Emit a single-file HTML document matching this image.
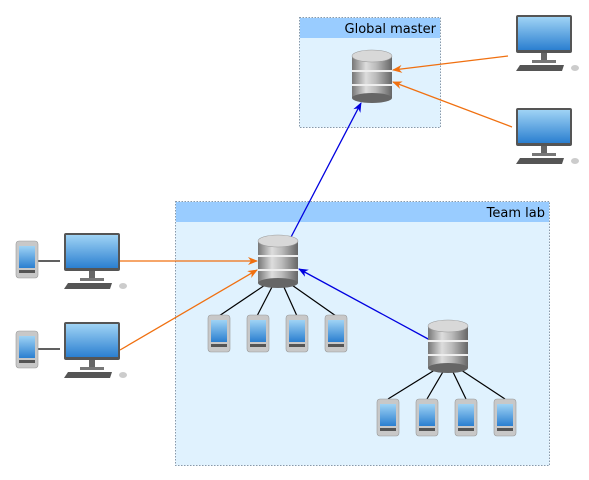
<!DOCTYPE html>
<html><head><style>body{margin:0;background:#fff}svg{display:block}</style></head><body>
<svg width="589" height="480" xmlns="http://www.w3.org/2000/svg" font-family="DejaVu Sans, sans-serif">
<defs>
<linearGradient id="cyl" x1="0" x2="1"><stop offset="0" stop-color="#777"/><stop offset=".35" stop-color="#ddd"/><stop offset=".6" stop-color="#bbb"/><stop offset="1" stop-color="#666"/></linearGradient>
<linearGradient id="scr" x1="0" y1="0" x2="0" y2="1"><stop offset="0" stop-color="#9fd3f5"/><stop offset="1" stop-color="#2b7fd0"/></linearGradient>
<marker id="ao" markerWidth="10" markerHeight="8" refX="9" refY="4" orient="auto" markerUnits="userSpaceOnUse"><path d="M0,0L10,4L0,8L3,4z" fill="#f07010"/></marker>
<marker id="ab" markerWidth="10" markerHeight="8" refX="9" refY="4" orient="auto" markerUnits="userSpaceOnUse"><path d="M0,0L10,4L0,8L3,4z" fill="#0000e0"/></marker>
<g id="db">
<rect x="0" y="6" width="40" height="42" fill="url(#cyl)"/>
<ellipse cx="20" cy="48" rx="20" ry="5" fill="#666"/>
<rect x="0" y="20" width="40" height="2" fill="#eee"/>
<rect x="0" y="34" width="40" height="2" fill="#eee"/>
<ellipse cx="20" cy="6" rx="20" ry="6" fill="#d8d8d8" stroke="#999" stroke-width=".6"/>
</g>
<g id="mon">
<rect x="0" y="0" width="56" height="38" rx="2" fill="#555"/>
<rect x="2" y="2" width="52" height="33" fill="url(#scr)"/>
<rect x="25" y="38" width="6" height="8" fill="#666"/>
<rect x="16" y="45" width="24" height="3" fill="#777"/>
<polygon points="4,50 48,50 46,56 0,56" fill="#555"/>
<ellipse cx="59" cy="53" rx="4" ry="3" fill="#ccc"/>
</g>
<g id="ph">
<rect x="0" y="0" width="22" height="37" rx="3" fill="#c8c8c8" stroke="#999" stroke-width=".6"/>
<rect x="3" y="5" width="16" height="22" fill="url(#scr)"/>
<rect x="3" y="29" width="16" height="3" fill="#555"/>
</g>
</defs>
<rect x="299.5" y="17.5" width="141" height="110" fill="#e0f2fe" stroke="#8899aa" stroke-dasharray="1.5,1.5"/>
<rect x="300" y="18" width="140" height="20" fill="#99ccff"/>
<text x="436" y="33" font-size="13" text-anchor="end" fill="#000">Global master</text>
<rect x="175.5" y="201.5" width="374" height="264" fill="#e0f2fe" stroke="#8899aa" stroke-dasharray="1.5,1.5"/>
<rect x="176" y="202" width="373" height="20" fill="#99ccff"/>
<text x="545" y="217" font-size="13" text-anchor="end" fill="#000">Team lab</text>
<g stroke="#000" stroke-width="1.2">
<line x1="38" y1="261" x2="60" y2="261"/><line x1="38" y1="349" x2="60" y2="349"/>
<line x1="268" y1="283" x2="219" y2="316"/><line x1="273" y1="285" x2="257" y2="316"/><line x1="283" y1="285" x2="297" y2="316"/><line x1="289" y1="283" x2="336" y2="316"/>
<line x1="438" y1="368" x2="388" y2="399"/><line x1="444" y1="370" x2="427" y2="399"/><line x1="452" y1="370" x2="466" y2="399"/><line x1="458" y1="368" x2="505" y2="399"/>
</g>
<g stroke-width="1.3" fill="none">
<line x1="508" y1="56" x2="393" y2="70" stroke="#f07010" marker-end="url(#ao)"/>
<line x1="512" y1="127" x2="393" y2="82" stroke="#f07010" marker-end="url(#ao)"/>
<line x1="120" y1="261" x2="257" y2="261" stroke="#f07010" marker-end="url(#ao)"/>
<line x1="120" y1="350" x2="257" y2="270" stroke="#f07010" marker-end="url(#ao)"/>
<line x1="290" y1="239" x2="361" y2="103" stroke="#0000e0" marker-end="url(#ab)"/>
<line x1="430" y1="340" x2="299" y2="269" stroke="#0000e0" marker-end="url(#ab)"/>
</g>
<use href="#db" x="352" y="50"/>
<use href="#db" x="258" y="235"/>
<use href="#db" x="428" y="320"/>
<use href="#mon" x="516" y="15"/>
<use href="#mon" x="516" y="108"/>
<use href="#mon" x="64" y="233"/>
<use href="#mon" x="64" y="322"/>
<use href="#ph" x="16" y="241"/><use href="#ph" x="16" y="331"/>
<use href="#ph" x="208" y="315"/><use href="#ph" x="247" y="315"/><use href="#ph" x="286" y="315"/><use href="#ph" x="325" y="315"/>
<use href="#ph" x="377" y="399"/><use href="#ph" x="416" y="399"/><use href="#ph" x="455" y="399"/><use href="#ph" x="494" y="399"/>
</svg>
</body></html>
